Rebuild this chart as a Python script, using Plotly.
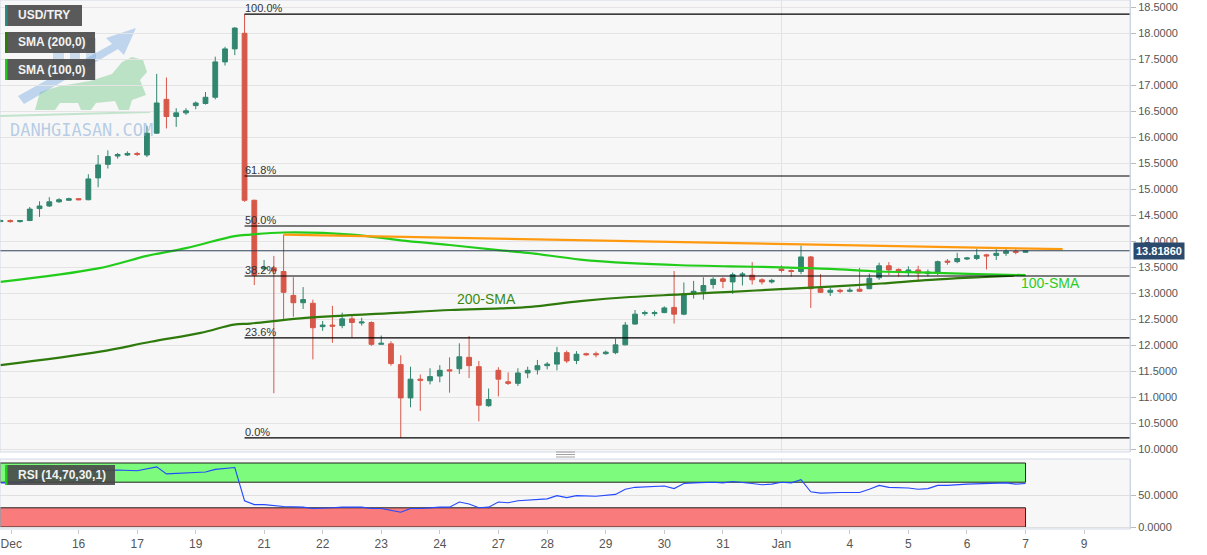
import plotly.graph_objects as go

# ---------------- data ----------------
candle_idx = list(range(106))
opens = [14.38, 14.40, 14.38, 14.40, 14.63, 14.68, 14.76, 14.79, 14.82, 14.80,
         15.22, 15.48, 15.64, 15.66, 15.69, 15.66, 16.08, 16.73, 16.40, 16.47,
         16.61, 16.65, 16.77, 17.45, 17.70, 18.00, 14.79, 13.47, 13.49, 13.42,
         12.96, 12.82, 12.81, 12.36, 12.39, 12.38, 12.51, 12.43, 12.44, 12.02,
         12.03, 11.63, 10.99, 11.35, 11.32, 11.41, 11.53, 11.55, 11.77, 11.59,
         10.84, 11.52, 11.30, 11.27, 11.47, 11.53, 11.61, 11.64, 11.86, 11.71,
         11.84, 11.84, 11.84, 11.86, 12.01, 12.41, 12.61, 12.61, 12.63, 12.73,
         12.60, 12.99, 13.04, 13.17, 13.28, 13.22, 13.35, 13.35, 13.26, 13.22,
         13.47, 13.44, 13.42, 13.70, 13.09, 13.02, 13.06, 13.04, 13.08, 13.09,
         13.30, 13.53, 13.46, 13.40, 13.45, 13.38, 13.40, 13.62, 13.61, 13.66,
         13.67, 13.74, 13.73, 13.77, 13.81, 13.79]
highs = [14.42, 14.42, 14.41, 14.66, 14.77, 14.85, 14.83, 14.84, 14.83, 15.29,
         15.66, 15.75, 15.70, 15.73, 15.72, 16.22, 17.22, 17.15, 16.56, 16.56,
         16.69, 16.87, 17.55, 17.74, 18.12, 18.37, 14.80, 13.64, 13.72, 14.13,
         13.31, 13.12, 12.88, 12.47, 12.76, 12.63, 12.60, 12.53, 12.46, 12.19,
         12.08, 11.81, 11.59, 11.44, 11.56, 11.62, 11.77, 12.04, 12.18, 11.70,
         11.17, 11.58, 11.48, 11.56, 11.59, 11.72, 11.68, 11.97, 11.90, 11.89,
         11.86, 11.88, 11.90, 12.13, 12.45, 12.68, 12.67, 12.67, 12.75, 13.43,
         13.21, 13.24, 13.31, 13.31, 13.31, 13.40, 13.41, 13.60, 13.29, 13.28,
         13.54, 13.46, 13.92, 13.72, 13.37, 13.11, 13.09, 13.11, 13.49, 13.38,
         13.59, 13.60, 13.48, 13.52, 13.53, 13.46, 13.63, 13.66, 13.78, 13.70,
         13.86, 13.76, 13.85, 13.88, 13.85, 13.82]
lows = [14.37, 14.36, 14.36, 14.39, 14.47, 14.66, 14.74, 14.78, 14.79, 14.79,
        15.04, 15.40, 15.59, 15.64, 15.64, 15.62, 16.07, 16.17, 16.20, 16.43,
        16.54, 16.63, 16.73, 17.38, 17.58, 14.76, 13.16, 13.44, 11.08, 12.49,
        12.55, 12.70, 11.73, 12.28, 12.05, 12.33, 12.15, 12.38, 11.99, 12.02,
        11.61, 10.22, 10.81, 10.74, 11.25, 11.29, 11.09, 11.45, 11.37, 10.54,
        10.82, 11.02, 11.24, 11.22, 11.37, 11.44, 11.54, 11.52, 11.66, 11.64,
        11.80, 11.77, 11.82, 11.83, 12.00, 12.40, 12.57, 12.56, 12.62, 12.42,
        12.58, 12.90, 12.88, 13.09, 13.10, 12.99, 13.15, 13.17, 13.17, 13.19,
        13.40, 13.32, 13.37, 12.72, 13.01, 12.95, 13.00, 13.02, 13.03, 13.08,
        13.26, 13.35, 13.32, 13.33, 13.22, 13.33, 13.35, 13.55, 13.58, 13.64,
        13.64, 13.46, 13.64, 13.72, 13.75, 13.78]
closes = [14.40, 14.38, 14.40, 14.62, 14.68, 14.76, 14.80, 14.82, 14.80, 15.20,
          15.47, 15.63, 15.67, 15.69, 15.67, 16.08, 16.66, 16.40, 16.47, 16.51,
          16.66, 16.77, 17.45, 17.70, 18.10, 14.79, 13.35, 13.50, 13.43, 13.02,
          12.82, 12.88, 12.34, 12.39, 12.37, 12.51, 12.44, 12.45, 12.02, 12.04,
          11.65, 10.99, 11.35, 11.33, 11.40, 11.52, 11.51, 11.78, 11.61, 10.85,
          10.96, 11.35, 11.27, 11.47, 11.52, 11.61, 11.64, 11.86, 11.70, 11.83,
          11.82, 11.82, 11.87, 12.01, 12.39, 12.60, 12.63, 12.63, 12.72, 12.60,
          12.99, 13.04, 13.15, 13.27, 13.23, 13.36, 13.37, 13.26, 13.22, 13.25,
          13.44, 13.42, 13.70, 13.09, 13.02, 13.06, 13.04, 13.06, 13.04, 13.29,
          13.53, 13.45, 13.43, 13.45, 13.39, 13.41, 13.61, 13.60, 13.67, 13.68,
          13.73, 13.72, 13.77, 13.81, 13.79, 13.8186]

sma100_x = [0, 10, 15, 19, 24, 25.6, 29, 36, 41, 46, 51, 54, 59.4, 64.5, 69.7,
            74.8, 80, 85, 90, 95, 100, 105]
sma100_y = [13.22, 13.48, 13.72, 13.87, 14.10, 14.13, 14.17, 14.13, 14.02, 13.93,
            13.83, 13.78, 13.65, 13.58, 13.54, 13.52, 13.50, 13.47, 13.42, 13.40,
            13.37, 13.35]
sma200_x = [0, 10.2, 15.4, 20.5, 23.9, 25.6, 30.7, 41, 46.1, 51.2, 54.3, 59.4,
            64.5, 69.7, 74.8, 79.9, 85, 90.2, 95.3, 100.4, 103.8]
sma200_y = [11.62, 11.88, 12.07, 12.24, 12.40, 12.42, 12.52, 12.63, 12.68, 12.71,
            12.74, 12.85, 12.93, 12.98, 13.03, 13.08, 13.13, 13.19, 13.26, 13.31,
            13.34]

trend_x = [29, 108.8]
trend_y = [14.13, 13.85]

rsi_x = [0, 2, 4, 6, 8, 10, 12, 14, 16, 17, 19, 21, 22, 24, 25, 26, 27, 29, 31, 32,
         34, 35, 37, 38, 39, 40, 41, 42, 43, 45, 46, 47, 48, 49, 50, 51, 52, 53, 55,
         56, 57, 58, 59, 61, 63, 64, 65, 67, 68, 69, 70, 71, 73, 74, 75, 77, 78, 79,
         80, 81, 82, 83, 84, 86, 88, 89, 90, 91, 93, 94, 95, 96, 97, 99, 101, 103,
         104, 105]
rsi_y = [69, 69, 76, 83, 88, 89, 89, 88, 94, 83, 84, 86, 90, 93, 41, 35, 35, 32, 31, 29,
         30, 31, 31, 29, 29, 26, 23, 29, 29, 31, 31, 39, 36, 30, 31, 39, 38, 41, 43,
         44, 49, 46, 49, 48, 51, 59, 62, 63, 64, 60, 68, 69, 70, 69, 71, 68, 66, 67,
         70, 69, 74, 55, 53, 54, 54, 59, 65, 62, 61, 59, 60, 65, 65, 67, 68, 69,
         67, 68]

fib_start = 25
fib_high = 18.37
fib_low = 10.22
fib_ratios = [1.0, 0.618, 0.5, 0.382, 0.236, 0.0]
fib_labels = ["100.0%", "61.8%", "50.0%", "38.2%", "23.6%", "0.0%"]

last_price = 13.8186

tick_idx = [1.1, 8, 14, 20, 27, 33, 39, 45, 51, 56, 62, 68, 74, 80, 87, 93, 99, 105, 111]
tick_text = ["Dec", "16", "17", "19", "21", "22", "23", "24", "27", "28", "29", "30",
             "31", "Jan", "4", "5", "6", "7", "9"]
price_ticks = [10 + 0.5 * k for k in range(18)]

# ---------------- figure ----------------
W, H = 1207, 555
ML, MR, MT, MB = 0, 77, 0, 26
PW = W - ML - MR
PH = H - MT - MB
X_LO, X_HI = -0.05, 115.7
MAIN_DOM = [1 - 452 / PH, 1]
RSI_DOM = [0, 1 - 459 / PH]

GREEN = "#31866f"
RED = "#d75749"


def px(xp):
    return xp / PW


def py(yp):
    return 1 - yp / PH


def ppath(points):
    s = "M " + " L ".join("%.5f,%.5f" % (px(a), py(b)) for a, b in points) + " Z"
    return s


fig = go.Figure()
fig.add_trace(go.Candlestick(
    x=candle_idx, open=opens, high=highs, low=lows, close=closes,
    increasing=dict(line=dict(color=GREEN, width=1), fillcolor=GREEN),
    decreasing=dict(line=dict(color=RED, width=1), fillcolor=RED),
    whiskerwidth=0, showlegend=False, hoverinfo="skip",
    xaxis="x", yaxis="y"))

fig.add_trace(go.Scatter(x=sma200_x, y=sma200_y, mode="lines",
                         line=dict(color="#2f7a0c", width=2.2, shape="spline"),
                         showlegend=False, hoverinfo="skip", xaxis="x", yaxis="y"))
fig.add_trace(go.Scatter(x=sma100_x, y=sma100_y, mode="lines",
                         line=dict(color="#22cc1a", width=2.2, shape="spline"),
                         showlegend=False, hoverinfo="skip", xaxis="x", yaxis="y"))
fig.add_trace(go.Scatter(x=trend_x, y=trend_y, mode="lines",
                         line=dict(color="#ff9a10", width=2.2),
                         showlegend=False, hoverinfo="skip", xaxis="x", yaxis="y"))

fig.add_trace(go.Scatter(x=rsi_x, y=rsi_y, mode="lines",
                         line=dict(color="#2348ff", width=1.1),
                         showlegend=False, hoverinfo="skip", xaxis="x", yaxis="y2"))

shapes = []
# watermark graphics (bull + arrow), drawn faint behind the data
shapes.append(dict(type="path", xref="paper", yref="paper", layer="below",
                   path=ppath([(0, 115), (150, 111), (150, 113), (0, 117)]),
                   fillcolor="rgba(130,205,150,0.45)", line=dict(width=0)))
shapes.append(dict(type="path", xref="paper", yref="paper", layer="below",
                   path=ppath([(35, 110), (40, 92), (60, 86), (90, 81), (112, 74), (122, 62),
                               (132, 57), (143, 60), (147, 72), (140, 80), (146, 95),
                               (132, 100), (129, 110), (119, 110), (115, 101), (96, 103),
                               (91, 110), (81, 110), (78, 103), (60, 103), (55, 110)]),
                   fillcolor="rgba(130,205,150,0.5)", line=dict(width=0)))
shapes.append(dict(type="path", xref="paper", yref="paper", layer="below",
                   path=ppath([(18, 96), (112, 44), (106, 38), (136, 28), (124, 55),
                               (118, 49), (24, 104)]),
                   fillcolor="rgba(120,170,225,0.45)", line=dict(width=0)))
for bx0, bx1, by0 in ((53, 64, 52), (70, 80, 42), (86, 96, 38)):
    shapes.append(dict(type="rect", xref="paper", yref="paper", layer="below",
                       x0=px(bx0), x1=px(bx1), y0=py(80), y1=py(by0),
                       fillcolor="rgba(120,165,215,0.35)", line=dict(width=0)))
# RSI zones
shapes.append(dict(type="rect", xref="x", yref="y2", x0=X_LO, x1=105, y0=70, y1=100,
                   fillcolor="#7dfb7d", line=dict(color="#222", width=1), layer="below"))
shapes.append(dict(type="rect", xref="x", yref="y2", x0=X_LO, x1=105, y0=0, y1=30,
                   fillcolor="#fa7b7b", line=dict(color="#222", width=1), layer="below"))
# Jan vertical grid line
for yr in ("y", "y2"):
    shapes.append(dict(type="line", xref="x", yref=yr + " domain", x0=80, x1=80, y0=0, y1=1,
                       line=dict(color="#e2e2e2", width=1), layer="below"))
# fib lines
annotations = []
for r, lab in zip(fib_ratios, fib_labels):
    lvl = fib_low + r * (fib_high - fib_low)
    shapes.append(dict(type="line", xref="x", yref="y", x0=fib_start, x1=X_HI, y0=lvl, y1=lvl,
                       line=dict(color="#000", width=1.2), layer="above"))
    annotations.append(dict(x=fib_start, y=lvl, xref="x", yref="y", text=lab, showarrow=False,
                            xanchor="left", yanchor="bottom", xshift=-2, yshift=-2,
                            font=dict(size=11, color="#333")))
# current price line
shapes.append(dict(type="line", xref="x", yref="y", x0=X_LO, x1=X_HI, y0=last_price, y1=last_price,
                   line=dict(color="#2f4158", width=1), layer="above"))
# plot frames
for dom in (MAIN_DOM, RSI_DOM):
    shapes.append(dict(type="rect", xref="paper", yref="paper", x0=0, x1=1, y0=dom[0], y1=dom[1],
                       line=dict(color="#d3d9e6", width=1), fillcolor="rgba(0,0,0,0)", layer="above"))

# separator handle
for yy in (454, 456.5, 459):
    shapes.append(dict(type="line", xref="paper", yref="paper", x0=px(556), x1=px(575),
                       y0=py(yy - 2), y1=py(yy - 2), line=dict(color="#8a8a8a", width=0.8)))

# legend boxes
boxes = [("USD/TRY", 5, 82, 5, 26, "#2e8a80"),
         ("SMA (200,0)", 5, 95, 32, 53, "#2f7a0c"),
         ("SMA (100,0)", 5, 95, 59, 80, "#22cc1a"),
         ("RSI (14,70,30,1)", 5, 115, 465, 485, "#22cc1a")]
for text, x0, x1, y0, y1, stripe in boxes:
    shapes.append(dict(type="rect", xref="paper", yref="paper", x0=px(x0), x1=px(x1),
                       y0=py(y1), y1=py(y0), fillcolor="rgba(72,72,72,0.9)",
                       line=dict(width=0), layer="above"))
    shapes.append(dict(type="rect", xref="paper", yref="paper", x0=px(x0), x1=px(x0 + 2.5),
                       y0=py(y1), y1=py(y0), fillcolor=stripe, line=dict(width=0), layer="above"))
    annotations.append(dict(x=px(x0 + 11), y=py((y0 + y1) / 2), xref="paper", yref="paper",
                            text="<b>" + text + "</b>", showarrow=False, xanchor="left",
                            yanchor="middle", font=dict(size=12, color="#f2f2f2")))

# SMA labels
annotations.append(dict(x=49.8, y=12.89, xref="x", yref="y", text="200-SMA", showarrow=False,
                        font=dict(size=14, color="#3a8a16")))
annotations.append(dict(x=107.6, y=13.20, xref="x", yref="y", text="100-SMA", showarrow=False,
                        font=dict(size=14, color="#2dcc22")))
# watermark
annotations.append(dict(x=px(8), y=py(130), xref="paper", yref="paper", text="DANHGIASAN.COM",
                        showarrow=False, xanchor="left", yanchor="middle",
                        font=dict(size=17, color="rgba(140,175,215,0.6)", family="DejaVu Sans Mono")))
# last price box
annotations.append(dict(x=1, y=last_price, xref="paper", yref="y", text="<b>13.81860</b>",
                        showarrow=False, xanchor="left", yanchor="middle", xshift=3,
                        bgcolor="#2b4a6e", borderpad=2, font=dict(size=11, color="white")))

fig.update_layout(
    width=W, height=H,
    margin=dict(l=ML, r=MR, t=MT, b=MB),
    paper_bgcolor="white", plot_bgcolor="#f7f7f7",
    font=dict(family="Liberation Sans, Arial, sans-serif", size=11, color="#555"),
    showlegend=False,
    shapes=shapes, annotations=annotations,
    xaxis=dict(domain=[0, 1], anchor="y2", range=[X_LO, X_HI], rangeslider=dict(visible=False),
               tickvals=tick_idx, ticktext=tick_text, showgrid=False, zeroline=False,
               ticks="outside", ticklen=4, tickcolor="#c8c8c8", showline=False,
               tickfont=dict(size=12, color="#555")),
    yaxis=dict(domain=MAIN_DOM, anchor="x", side="right", range=[9.95, 18.64],
               tickvals=price_ticks, tickformat=".4f", showgrid=True, gridcolor="#e4e4e4",
               zeroline=False, ticks="outside", ticklen=5, tickcolor="#bbb",
               showline=True, linecolor="#c9d1e3", tickfont=dict(size=11, color="#555")),
    yaxis2=dict(domain=RSI_DOM, anchor="x", side="right", range=[-3.1, 106.25],
                tickvals=[0, 50], tickformat=".4f", showgrid=True, gridcolor="#e0e0e0",
                zeroline=False, ticks="outside", ticklen=5, tickcolor="#bbb",
                showline=True, linecolor="#c9d1e3", tickfont=dict(size=11, color="#555")),
)

fig.write_html("out.html")
